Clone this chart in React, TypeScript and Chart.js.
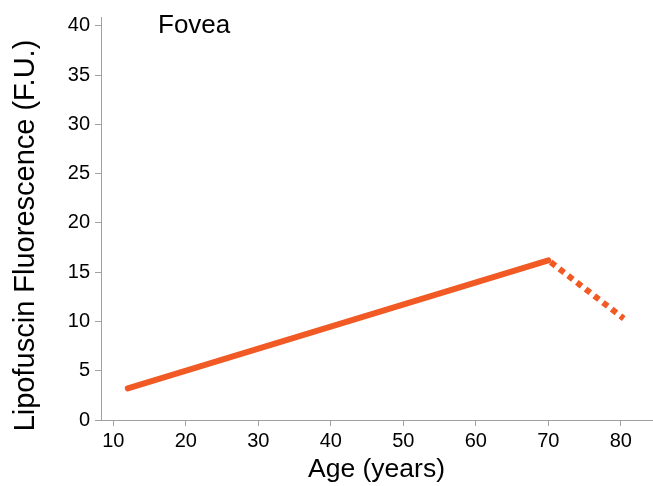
import React, { useEffect, useRef } from "react";
import { Chart, registerables } from "chart.js";

Chart.register(...registerables);

const solidAges = [12, 70];
const solidValues = [3.2, 16.2];
const dottedAges = [70, 80.4];
const dottedValues = [16.2, 10.3];
const xTicks = [10, 20, 30, 40, 50, 60, 70, 80];
const yTicks = [0, 5, 10, 15, 20, 25, 30, 35, 40];
const panelLabel = "Fovea";
const xTitle = "Age (years)";
const yTitle = "Lipofuscin Fluorescence (F.U.)";

const ORANGE = "#F15A24";
const AXIS = "#A0A0A0";
const FONT = "'Liberation Sans', Arial, Helvetica, sans-serif";

export default function App() {
  const ref = useRef<HTMLCanvasElement | null>(null);

  useEffect(() => {
    if (!ref.current) return;
    const labelPlugin = {
      id: "panelLabel",
      afterDraw(chart: any) {
        const ctx = chart.ctx;
        ctx.save();
        ctx.fillStyle = "#000";
        ctx.font = `26px ${FONT}`;
        ctx.textBaseline = "alphabetic";
        ctx.textAlign = "left";
        ctx.fillText(panelLabel, 158, 33);
        ctx.translate(34, 235.5);
        ctx.rotate(-Math.PI / 2);
        ctx.font = `29px ${FONT}`;
        ctx.textAlign = "center";
        ctx.fillText(yTitle, 0, 0);
        ctx.restore();
      },
    };
    const chart = new Chart(ref.current, {
      type: "line",
      data: {
        datasets: [
          {
            data: solidAges.map((x, i) => ({ x, y: solidValues[i] })),
            borderColor: ORANGE,
            borderWidth: 6,
            borderCapStyle: "round",
            pointRadius: 0,
            fill: false,
          },
          {
            data: dottedAges.map((x, i) => ({ x, y: dottedValues[i] })),
            borderColor: ORANGE,
            borderWidth: 6,
            borderDash: [6, 5],
            borderDashOffset: -3,
            borderCapStyle: "butt",
            pointRadius: 0,
            fill: false,
          },
        ],
      },
      options: {
        animation: false,
        responsive: false,
        maintainAspectRatio: false,
        layout: { padding: { top: 15, right: 1, left: 0, bottom: 0 } },
        plugins: { legend: { display: false }, tooltip: { enabled: false } },
        scales: {
          x: {
            type: "linear",
            min: 8.3,
            max: 84.3,
            afterBuildTicks: (s: any) => {
              s.ticks = xTicks.map((v) => ({ value: v }));
            },
            afterFit: (s: any) => {
              s.height = 66;
            },
            grid: { display: true, drawOnChartArea: false, drawTicks: true, tickLength: 6, color: AXIS },
            border: { display: true, color: AXIS, width: 1 },
            ticks: { color: "#000", font: { family: FONT, size: 20 }, padding: 3, maxRotation: 0 },
            title: { display: true, text: xTitle, color: "#000", font: { family: FONT, size: 26.5 }, padding: { top: 0, bottom: 0 } },
          },
          y: {
            type: "linear",
            min: 0,
            max: 40.9,
            afterBuildTicks: (s: any) => {
              s.ticks = yTicks.map((v) => ({ value: v }));
            },
            afterFit: (s: any) => {
              s.width = 101;
            },
            grid: { display: true, drawOnChartArea: false, drawTicks: true, tickLength: 6, color: AXIS },
            border: { display: true, color: AXIS, width: 1 },
            ticks: { color: "#000", font: { family: FONT, size: 20 }, padding: 5 },
            title: { display: false, text: yTitle },
          },
        },
      },
      plugins: [labelPlugin],
    } as any);
    return () => chart.destroy();
  }, []);

  return (
    <div style={{ position: "fixed", left: 0, top: 0, width: 653, height: 486, background: "#fff" }}>
      <canvas ref={ref} width={653} height={486} style={{ width: 653, height: 486, display: "block" }} />
    </div>
  );
}
